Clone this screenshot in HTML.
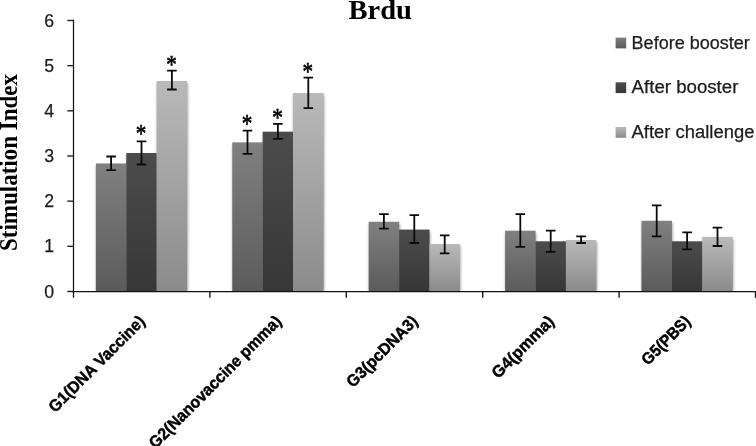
<!DOCTYPE html>
<html><head><meta charset="utf-8"><title>Brdu</title>
<style>
html,body{margin:0;padding:0;background:#fff;}
body{width:756px;height:446px;overflow:hidden;}
svg{display:block;}
.tk{font-family:"Liberation Sans","DejaVu Sans",sans-serif;font-size:17.7px;fill:#1c1c1c;stroke:#1c1c1c;stroke-width:0.25px;}
.lg{font-family:"Liberation Sans","DejaVu Sans",sans-serif;font-size:17.5px;fill:#1c1c1c;stroke:#1c1c1c;stroke-width:0.25px;}
.ct{font-family:"Liberation Sans","DejaVu Sans",sans-serif;font-size:16.5px;font-weight:bold;fill:#000;stroke:#000;stroke-width:0.45px;}
.tt{font-family:"Liberation Serif","DejaVu Serif",serif;font-weight:bold;fill:#000;}
.st{font-family:"Liberation Serif","DejaVu Serif",serif;font-size:23.5px;fill:#000;stroke:#000;stroke-width:0.6px;}
</style></head><body>
<svg width="756" height="446" viewBox="0 0 756 446">
<defs>
<linearGradient id="g0" x1="0" y1="0" x2="0" y2="1"><stop offset="0" stop-color="#808080"/><stop offset="1" stop-color="#5b5b5b"/></linearGradient>
<linearGradient id="g1" x1="0" y1="0" x2="0" y2="1"><stop offset="0" stop-color="#4c4c4c"/><stop offset="1" stop-color="#373737"/></linearGradient>
<linearGradient id="g2" x1="0" y1="0" x2="0" y2="1"><stop offset="0" stop-color="#b9b9b9"/><stop offset="1" stop-color="#8b8b8b"/></linearGradient>
<filter id="sh" x="-20%" y="-20%" width="140%" height="140%"><feGaussianBlur stdDeviation="1.7"/></filter>
</defs>
<rect width="756" height="446" fill="#fff"/>

<rect x="96.40" y="165.50" width="30.40" height="125.60" fill="#000" opacity="0.42" filter="url(#sh)"/>
<rect x="126.80" y="155.00" width="30.40" height="136.10" fill="#000" opacity="0.42" filter="url(#sh)"/>
<rect x="157.20" y="83.00" width="30.40" height="208.10" fill="#000" opacity="0.42" filter="url(#sh)"/>
<rect x="232.80" y="144.40" width="30.40" height="146.70" fill="#000" opacity="0.42" filter="url(#sh)"/>
<rect x="263.20" y="133.70" width="30.40" height="157.40" fill="#000" opacity="0.42" filter="url(#sh)"/>
<rect x="293.60" y="95.00" width="30.40" height="196.10" fill="#000" opacity="0.42" filter="url(#sh)"/>
<rect x="369.20" y="223.80" width="30.40" height="67.30" fill="#000" opacity="0.42" filter="url(#sh)"/>
<rect x="399.60" y="231.60" width="30.40" height="59.50" fill="#000" opacity="0.42" filter="url(#sh)"/>
<rect x="430.00" y="246.00" width="30.40" height="45.10" fill="#000" opacity="0.42" filter="url(#sh)"/>
<rect x="505.60" y="232.70" width="30.40" height="58.40" fill="#000" opacity="0.42" filter="url(#sh)"/>
<rect x="536.00" y="243.30" width="30.40" height="47.80" fill="#000" opacity="0.42" filter="url(#sh)"/>
<rect x="566.40" y="242.00" width="30.40" height="49.10" fill="#000" opacity="0.42" filter="url(#sh)"/>
<rect x="642.00" y="222.80" width="30.40" height="68.30" fill="#000" opacity="0.42" filter="url(#sh)"/>
<rect x="672.40" y="243.30" width="30.40" height="47.80" fill="#000" opacity="0.42" filter="url(#sh)"/>
<rect x="702.80" y="238.90" width="30.40" height="52.20" fill="#000" opacity="0.42" filter="url(#sh)"/>
<rect x="95.90" y="163.50" width="30.45" height="127.60" fill="url(#g0)"/>
<rect x="126.30" y="153.00" width="30.45" height="138.10" fill="url(#g1)"/>
<rect x="156.70" y="81.00" width="30.45" height="210.10" fill="url(#g2)"/>
<rect x="232.30" y="142.40" width="30.45" height="148.70" fill="url(#g0)"/>
<rect x="262.70" y="131.70" width="30.45" height="159.40" fill="url(#g1)"/>
<rect x="293.10" y="93.00" width="30.45" height="198.10" fill="url(#g2)"/>
<rect x="368.70" y="221.80" width="30.45" height="69.30" fill="url(#g0)"/>
<rect x="399.10" y="229.60" width="30.45" height="61.50" fill="url(#g1)"/>
<rect x="429.50" y="244.00" width="30.45" height="47.10" fill="url(#g2)"/>
<rect x="505.10" y="230.70" width="30.45" height="60.40" fill="url(#g0)"/>
<rect x="535.50" y="241.30" width="30.45" height="49.80" fill="url(#g1)"/>
<rect x="565.90" y="240.00" width="30.45" height="51.10" fill="url(#g2)"/>
<rect x="641.50" y="220.80" width="30.45" height="70.30" fill="url(#g0)"/>
<rect x="671.90" y="241.30" width="30.45" height="49.80" fill="url(#g1)"/>
<rect x="702.30" y="236.90" width="30.45" height="54.20" fill="url(#g2)"/>
<rect x="0" y="291.10" width="756" height="10" fill="#fff"/>
<path d="M106.30 156.50H115.90M106.30 170.20H115.90M111.10 156.50V170.20" stroke="#0a0a0a" stroke-width="1.8" fill="none"/>
<path d="M136.70 141.30H146.30M136.70 164.50H146.30M141.50 141.30V164.50" stroke="#0a0a0a" stroke-width="1.8" fill="none"/>
<text class="st" transform="translate(141.10 130.00) scale(0.9 1.05)" y="11.3" text-anchor="middle">*</text>
<path d="M167.10 70.60H176.70M167.10 89.50H176.70M171.90 70.60V89.50" stroke="#0a0a0a" stroke-width="1.8" fill="none"/>
<text class="st" transform="translate(171.50 61.00) scale(0.9 1.05)" y="11.3" text-anchor="middle">*</text>
<path d="M242.70 130.70H252.30M242.70 153.90H252.30M247.50 130.70V153.90" stroke="#0a0a0a" stroke-width="1.8" fill="none"/>
<text class="st" transform="translate(247.10 120.30) scale(0.9 1.05)" y="11.3" text-anchor="middle">*</text>
<path d="M273.10 123.80H282.70M273.10 138.90H282.70M277.90 123.80V138.90" stroke="#0a0a0a" stroke-width="1.8" fill="none"/>
<text class="st" transform="translate(277.50 113.80) scale(0.9 1.05)" y="11.3" text-anchor="middle">*</text>
<path d="M303.50 77.60H313.10M303.50 108.10H313.10M308.30 77.60V108.10" stroke="#0a0a0a" stroke-width="1.8" fill="none"/>
<text class="st" transform="translate(307.90 68.30) scale(0.9 1.05)" y="11.3" text-anchor="middle">*</text>
<path d="M379.10 214.10H388.70M379.10 228.60H388.70M383.90 214.10V228.60" stroke="#0a0a0a" stroke-width="1.8" fill="none"/>
<path d="M409.50 215.10H419.10M409.50 243.00H419.10M414.30 215.10V243.00" stroke="#0a0a0a" stroke-width="1.8" fill="none"/>
<path d="M439.90 235.30H449.50M439.90 253.40H449.50M444.70 235.30V253.40" stroke="#0a0a0a" stroke-width="1.8" fill="none"/>
<path d="M515.50 214.10H525.10M515.50 246.80H525.10M520.30 214.10V246.80" stroke="#0a0a0a" stroke-width="1.8" fill="none"/>
<path d="M545.90 230.70H555.50M545.90 251.80H555.50M550.70 230.70V251.80" stroke="#0a0a0a" stroke-width="1.8" fill="none"/>
<path d="M576.30 236.30H585.90M576.30 243.00H585.90M581.10 236.30V243.00" stroke="#0a0a0a" stroke-width="1.8" fill="none"/>
<path d="M651.90 205.40H661.50M651.90 236.30H661.50M656.70 205.40V236.30" stroke="#0a0a0a" stroke-width="1.8" fill="none"/>
<path d="M682.30 232.30H691.90M682.30 249.40H691.90M687.10 232.30V249.40" stroke="#0a0a0a" stroke-width="1.8" fill="none"/>
<path d="M712.70 227.60H722.30M712.70 246.00H722.30M717.50 227.60V246.00" stroke="#0a0a0a" stroke-width="1.8" fill="none"/>
<path d="M73.50 19.8V291.50H756" stroke="#111" stroke-width="1.25" fill="none"/>
<path d="M67.30 291.50H73.50" stroke="#1c1c1c" stroke-width="1.35"/>
<text class="tk" x="54.1" y="297.60" text-anchor="end">0</text>
<path d="M67.30 246.33H73.50" stroke="#1c1c1c" stroke-width="1.35"/>
<text class="tk" x="54.1" y="252.43" text-anchor="end">1</text>
<path d="M67.30 201.16H73.50" stroke="#1c1c1c" stroke-width="1.35"/>
<text class="tk" x="54.1" y="207.26" text-anchor="end">2</text>
<path d="M67.30 155.99H73.50" stroke="#1c1c1c" stroke-width="1.35"/>
<text class="tk" x="54.1" y="162.09" text-anchor="end">3</text>
<path d="M67.30 110.82H73.50" stroke="#1c1c1c" stroke-width="1.35"/>
<text class="tk" x="54.1" y="116.92" text-anchor="end">4</text>
<path d="M67.30 65.65H73.50" stroke="#1c1c1c" stroke-width="1.35"/>
<text class="tk" x="54.1" y="71.75" text-anchor="end">5</text>
<path d="M67.30 20.48H73.50" stroke="#1c1c1c" stroke-width="1.35"/>
<text class="tk" x="54.1" y="26.58" text-anchor="end">6</text>
<path d="M73.50 291.50V297.70" stroke="#111" stroke-width="1.35"/>
<path d="M209.90 291.50V297.70" stroke="#111" stroke-width="1.35"/>
<path d="M346.30 291.50V297.70" stroke="#111" stroke-width="1.35"/>
<path d="M482.70 291.50V297.70" stroke="#111" stroke-width="1.35"/>
<path d="M619.10 291.50V297.70" stroke="#111" stroke-width="1.35"/>
<path d="M755.50 291.50V297.70" stroke="#111" stroke-width="1.35"/>
<text class="tt" x="380.2" y="18.8" font-size="27.8" text-anchor="middle" textLength="63.5" lengthAdjust="spacingAndGlyphs">Brdu</text>
<text class="tt" font-size="25.5" transform="translate(16.5 251) rotate(-90)" textLength="177" lengthAdjust="spacingAndGlyphs">Stimulation Index</text>
<rect x="615.6" y="37.60" width="10.6" height="10.8" fill="url(#g0)"/>
<text class="lg" x="631.6" y="48.50" textLength="118.2" lengthAdjust="spacingAndGlyphs">Before booster</text>
<rect x="615.6" y="82.30" width="10.6" height="10.8" fill="url(#g1)"/>
<text class="lg" x="631.6" y="93.20" textLength="106.8" lengthAdjust="spacingAndGlyphs">After booster</text>
<rect x="615.6" y="127.00" width="10.6" height="10.8" fill="url(#g2)"/>
<text class="lg" x="631.6" y="137.90" textLength="122.8" lengthAdjust="spacingAndGlyphs">After challenge</text>
<text class="ct" transform="translate(146.00 322.40) rotate(-45)" x="-128.5" textLength="128.5" lengthAdjust="spacingAndGlyphs">G1(DNA Vaccine)</text>
<text class="ct" transform="translate(282.40 322.40) rotate(-45)" x="-179.5" textLength="179.5" lengthAdjust="spacingAndGlyphs">G2(Nanovaccine pmma)</text>
<text class="ct" transform="translate(418.80 322.40) rotate(-45)" x="-93" textLength="93" lengthAdjust="spacingAndGlyphs">G3(pcDNA3)</text>
<text class="ct" transform="translate(555.20 322.40) rotate(-45)" x="-80.5" textLength="80.5" lengthAdjust="spacingAndGlyphs">G4(pmma)</text>
<text class="ct" transform="translate(691.60 322.40) rotate(-45)" x="-61.5" textLength="61.5" lengthAdjust="spacingAndGlyphs">G5(PBS)</text>
</svg></body></html>
